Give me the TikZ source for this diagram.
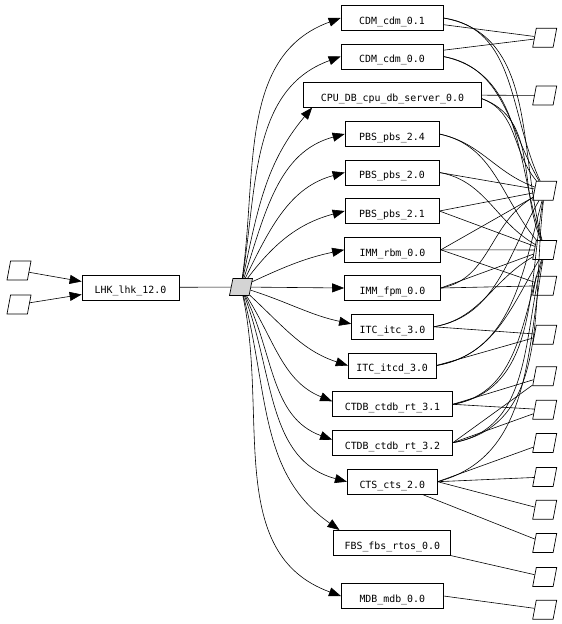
\documentclass[tikz,border=0pt]{standalone}
\usepackage{fontspec}
\newfontfamily\gvfont{DejaVu Sans Mono}
\usetikzlibrary{shapes.geometric,arrows.meta}
\begin{document}
\begin{tikzpicture}[x=1pt,y=-1pt,
  box/.style={draw,line width=0.7pt,minimum height=25pt,inner sep=0pt,text height=12.6pt,text depth=0pt,font=\gvfont\fontsize{9.9}{12}\selectfont},
  para/.style={draw,line width=0.7pt,trapezium,trapezium left angle=78,trapezium right angle=102,trapezium stretches=true,minimum width=24pt,minimum height=19pt,inner sep=1pt},
  hubst/.style={para,fill=black!17,minimum width=23pt,minimum height=17pt},
  arr/.style={line width=0.6pt,-{Triangle[length=12pt,width=9pt]}},
  ln/.style={line width=0.6pt}]
\useasboundingbox (0,0) rectangle (562,624);
% left side
\node[para] (p1) at (19,270.5) {};
\node[para] (p2) at (19,304.5) {};
\node[box,minimum width=97pt] (lhk) at (130.5,287.5) {LHK\_lhk\_12.0};
\node[hubst] (hub) at (241,287) {};
% boxes
\node[box,minimum width=102pt] (cdm01) at (392,18) {CDM\_cdm\_0.1};
\node[box,minimum width=102pt] (cdm00) at (392,56.5) {CDM\_cdm\_0.0};
\node[box,minimum width=178pt] (cpu) at (392.5,94.7) {CPU\_DB\_cpu\_db\_server\_0.0};
\node[box,minimum width=94pt] (pbs24) at (392,134) {PBS\_pbs\_2.4};
\node[box,minimum width=94pt] (pbs20) at (392,172.5) {PBS\_pbs\_2.0};
\node[box,minimum width=94pt] (pbs21) at (392,211) {PBS\_pbs\_2.1};
\node[box,minimum width=96pt] (rbm) at (392.5,249.8) {IMM\_rbm\_0.0};
\node[box,minimum width=96pt] (fpm) at (392.5,288) {IMM\_fpm\_0.0};
\node[box,minimum width=82pt] (itc) at (392.5,326.8) {ITC\_itc\_3.0};
\node[box,minimum width=88pt] (itcd) at (392.2,365.5) {ITC\_itcd\_3.0};
\node[box,minimum width=120pt] (ct31) at (392.5,404.3) {CTDB\_ctdb\_rt\_3.1};
\node[box,minimum width=120pt] (ct32) at (392.5,442.7) {CTDB\_ctdb\_rt\_3.2};
\node[box,minimum width=90pt] (cts) at (392.3,481.7) {CTS\_cts\_2.0};
\node[box,minimum width=117pt] (fbs) at (392.3,542.8) {FBS\_fbs\_rtos\_0.0};
\node[box,minimum width=102pt] (mdb) at (392.3,596) {MDB\_mdb\_0.0};
% right parallelograms
\foreach \n/\y in {1/37.8,2/95.5,3/190.7,4/250,5/285.7,6/334.7,7/376.3,8/409.7,9/443,10/477,11/509.7,12/543,13/577,14/609.7}
  \node[para] (r\n) at (544.7,\y) {};
% left edges
\draw[arr] (p1) -- ([yshift=6pt]lhk.west);
\draw[arr] (p2) -- ([yshift=-7pt]lhk.west);
\draw[ln] (lhk) -- (hub);
% hub to boxes
\draw[arr] (hub) to[out=82,in=200] (cdm01.west);
\draw[arr] (hub) to[out=81,in=200] (cdm00.west);
\draw[arr] (hub) to[out=78,in=230] ([xshift=9pt]cpu.south west);
\draw[arr] (hub) to[out=72,in=195] (pbs24.west);
\draw[arr] (hub) to[out=64,in=195] (pbs20.west);
\draw[arr] (hub) to[out=53,in=195] (pbs21.west);
\draw[arr] (hub) to[out=25,in=192] (rbm.west);
\draw[arr] (hub) -- (fpm.west);
\draw[arr] (hub) to[out=-18,in=168] ([yshift=3pt]itc.west);
\draw[arr] (hub) to[out=-43,in=162] (itcd.west);
\draw[arr] (hub) to[out=-58,in=158] ([yshift=3pt]ct31.west);
\draw[arr] (hub) to[out=-64,in=160] ([yshift=3pt]ct32.west);
\draw[arr] (hub) to[out=-69,in=165] (cts.west);
\draw[arr] (hub) to[out=-75,in=145] ([xshift=6pt]fbs.north west);
\draw[arr] (hub) to[out=-78,in=160] (mdb.west);
% boxes to right parallelograms
\draw[ln] (cdm01) -- (r1);
\draw[ln] (cdm00) -- (r1);
\draw[ln] (cdm01.east) to[out=-8,in=115] (r3);
\draw[ln] (cdm01.east) to[out=-10,in=105] (r4);
\draw[ln] (cdm00.east) to[out=-10,in=120] (r3);
\draw[ln] (cdm00.east) to[out=-12,in=108] (r4);
\draw[ln] (cpu) -- (r2);
\draw[ln] ([yshift=-4pt]cpu.east) to[out=-20,in=130] (r3);
\draw[ln] ([yshift=-4pt]cpu.east) to[out=-20,in=112] (r4);
\draw[ln] (pbs24.east) to[out=-12,in=160] (r3);
\draw[ln] (pbs24.east) to[out=-12,in=130] (r4);
\draw[ln] (pbs20.east) -- (r3);
\draw[ln] (pbs20.east) to[out=-10,in=150] (r4);
\draw[ln] (pbs21.east) -- (r3);
\draw[ln] (pbs21.east) -- (r4);
\draw[ln] (rbm.east) -- (r3);
\draw[ln] (rbm.east) -- (r4);
\draw[ln] (rbm.east) -- (r5);
\draw[ln] (fpm.east) to[out=10,in=-150] (r3);
\draw[ln] (fpm.east) -- (r4);
\draw[ln] (fpm.east) -- (r5);
\draw[ln] (itc.east) to[out=10,in=-120] (r3);
\draw[ln] (itc.east) to[out=10,in=-150] (r4);
\draw[ln] (itc.east) -- (r6);
\draw[ln] (itcd.east) to[out=10,in=-105] (r3);
\draw[ln] (itcd.east) to[out=10,in=-120] (r4);
\draw[ln] (itcd.east) -- (r6);
\draw[ln] (ct31.east) to[out=10,in=-100] (r3);
\draw[ln] (ct31.east) to[out=10,in=-108] (r4);
\draw[ln] (ct31.east) -- (r7);
\draw[ln] (ct31.east) -- (r8);
\draw[ln] (ct32.east) to[out=10,in=-97] (r3);
\draw[ln] (ct32.east) to[out=10,in=-104] (r4);
\draw[ln] (ct32.east) -- (r7);
\draw[ln] (ct32.east) -- (r8);
\draw[ln] (cts.east) to[out=15,in=-100] (r4);
\draw[ln] (cts.east) -- (r9);
\draw[ln] (cts.east) -- (r10);
\draw[ln] (cts.east) -- (r11);
\draw[ln] ([xshift=-15pt]cts.south east) -- (r12);
\draw[ln] (fbs.south east) -- (r13);
\draw[ln] (mdb.east) -- (r14);
\end{tikzpicture}
\end{document}
